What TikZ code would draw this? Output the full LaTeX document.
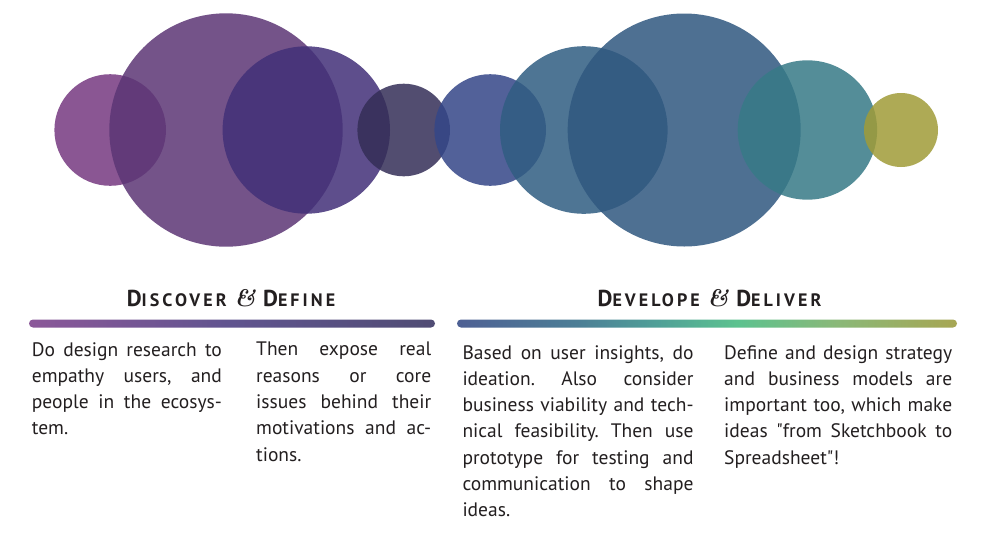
\documentclass[tikz,border=0pt]{standalone}
\usepackage{fontspec}
\setmainfont{PT Sans}
\newfontface\ampfont{lmroman10-bolditalic.otf}
\newfontface\qfont{PT Sans}

% circle colours (base colours, drawn with transparency)
\definecolor{cA}{RGB}{118,57,129}
\definecolor{cB}{RGB}{92,54,117}
\definecolor{cC}{RGB}{66,48,120}
\definecolor{cD}{RGB}{52,46,87}
\definecolor{cE}{RGB}{52,70,136}
\definecolor{cF}{RGB}{48,93,130}
\definecolor{cG}{RGB}{48,88,128}
\definecolor{cH}{RGB}{55,122,135}
\definecolor{cI}{RGB}{160,156,56}
\definecolor{ink}{RGB}{35,31,32}

% bar gradients
\definecolor{gA0}{RGB}{139,88,153}
\definecolor{gA1}{RGB}{96,84,143}
\definecolor{gA2}{RGB}{80,76,116}
\definecolor{gB0}{RGB}{78,96,148}
\definecolor{gB1}{RGB}{76,126,150}
\definecolor{gB2}{RGB}{80,160,152}
\definecolor{gB3}{RGB}{92,194,143}
\definecolor{gB4}{RGB}{138,184,120}
\definecolor{gB5}{RGB}{167,166,83}
\pgfdeclarehorizontalshading{barA}{100bp}{color(0bp)=(gA0); color(25bp)=(gA0); color(50bp)=(gA1); color(75bp)=(gA2); color(100bp)=(gA2)}
\pgfdeclarehorizontalshading{barB}{100bp}{color(0bp)=(gB0); color(25bp)=(gB0); color(37bp)=(gB1); color(45bp)=(gB2); color(53bp)=(gB3); color(63bp)=(gB4); color(75bp)=(gB5); color(100bp)=(gB5)}

% one justified line, and the closing (ragged) line of a paragraph
\newcommand\jline[1]{\hbox to \hsize{\spaceskip=0pt\relax\xspaceskip=0pt\relax\frenchspacing #1}}
\newcommand\lastline[1]{\hbox{#1}}
\newcommand\bigc[1]{{\fontsize{23}{23}\selectfont #1}}
\newcommand\amp{{\ampfont\fontsize{24}{24}\selectfont\&}}
\newcommand\dq{{\qfont"}}

\tikzset{
  bubble/.style={opacity=0.85},
  heading/.style={inner sep=0pt, anchor=base, text=ink,
    font=\bfseries\addfontfeature{LetterSpace=17}\fontsize{18}{18}\selectfont},
  para/.style={inner sep=0pt, anchor=north west, text=ink,
    font=\fontsize{19.5}{26.3}\selectfont},
  bar/.style={rounded corners=4pt}
}

\begin{document}
\begin{tikzpicture}[x=1pt,y=-1pt]
\useasboundingbox (0,0) rectangle (985,536);
\fill[white] (0,0) rectangle (985,536);

% bubbles
\fill[cA, bubble] (110.2,130) circle (55.8);
\fill[cB, bubble] (226,130) circle (116.7);
\fill[cC, bubble] (306.3,130) circle (83.7);
\fill[cD, bubble] (403.7,130) circle (46.3);
\fill[cE, bubble] (490.2,130) circle (55.8);
\fill[cF, bubble] (583.8,130) circle (83.8);
\fill[cG, bubble] (684.2,130) circle (116.5);
\fill[cH, bubble] (807.4,130) circle (69.7);
\fill[cI, bubble] (901,130) circle (37);

% headings
\node[heading] (h1) at (231,306.7) {\bigc{D}ISCOVER \amp{} \bigc{D}EFINE};
\node[heading] (h2) at (709.5,306.7) {\bigc{D}EVELOPE \amp{} \bigc{D}ELIVER};

% gradient bars
\shade[shading=barA, bar] (29,319.5) rectangle (435,327.5);
\shade[shading=barB, bar] (457,319.5) rectangle (957,327.5);

% columns
\node[para, text width=190pt] (t1) at (31.7,342) {%
\jline{Do design research to}
\jline{empathy users, and}
\jline{people in the ecosys-}
\lastline{tem.}};
\node[para, text width=175pt] (t2) at (256,342) {%
\jline{Then expose real}
\jline{reasons or core}
\jline{issues behind their}
\jline{motivations and ac-}
\lastline{tions.}};
\node[para, text width=231pt] (t3) at (462.3,345) {%
\jline{Based on user insights, do}
\jline{ideation. Also consider}
\jline{business viability and tech-}
\jline{nical feasibility. Then use}
\jline{prototype for testing and}
\jline{communication to shape}
\lastline{ideas.}};
\node[para, text width=228pt] (t4) at (724,345) {%
\jline{Define and design strategy}
\jline{and business models are}
\jline{important too, which make}
\jline{ideas \dq from Sketchbook to}
\lastline{Spreadsheet\dq!}};
\end{tikzpicture}
\end{document}
